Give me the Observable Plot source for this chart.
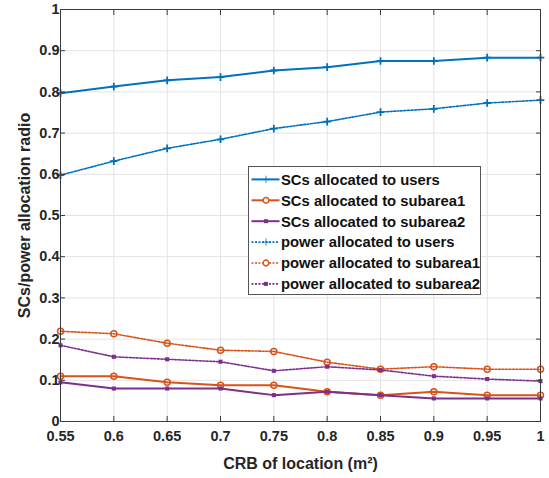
<!DOCTYPE html>
<html>
<head>
<meta charset="utf-8">
<script src="https://cdn.jsdelivr.net/npm/d3@7"></script>
<script src="https://cdn.jsdelivr.net/npm/@observablehq/plot@0.6"></script>
<style>
  html, body { margin: 0; padding: 0; background: #fff; }
  #wrap { position: relative; width: 549px; height: 478px; }
  #legend { position: absolute; left: 248px; top: 166px; }
</style>
</head>
<body>
<div id="wrap"></div>
<script>
// ---- data ----
const crb = [0.55, 0.6, 0.65, 0.7, 0.75, 0.8, 0.85, 0.9, 0.95, 1];
const scUsers     = [0.797, 0.813, 0.828, 0.836, 0.852, 0.860, 0.875, 0.875, 0.883, 0.883];
const scSub1      = [0.110, 0.110, 0.095, 0.088, 0.088, 0.072, 0.064, 0.072, 0.064, 0.064];
const scSub2      = [0.095, 0.080, 0.080, 0.080, 0.064, 0.072, 0.064, 0.056, 0.056, 0.056];
const powUsers    = [0.598, 0.632, 0.663, 0.685, 0.711, 0.728, 0.751, 0.759, 0.773, 0.780];
const powSub1     = [0.219, 0.213, 0.190, 0.173, 0.170, 0.144, 0.127, 0.133, 0.127, 0.127];
const powSub2     = [0.185, 0.157, 0.151, 0.145, 0.123, 0.133, 0.125, 0.110, 0.103, 0.098];
const seriesNames = ["SCs allocated to users", "SCs allocated to subarea1", "SCs allocated to subarea2",
                     "power allocated to users", "power allocated to subarea1", "power allocated to subarea2"];
const xTicks = [0.55, 0.6, 0.65, 0.7, 0.75, 0.8, 0.85, 0.9, 0.95, 1];
const xTickLabels = ["0.55", "0.6", "0.65", "0.7", "0.75", "0.8", "0.85", "0.9", "0.95", "1"];
const yTicks = [0, 0.1, 0.2, 0.3, 0.4, 0.5, 0.6, 0.7, 0.8, 0.9, 1];
const yTickLabels = ["0", "0.1", "0.2", "0.3", "0.4", "0.5", "0.6", "0.7", "0.8", "0.9", "1"];
const xLabel = "CRB of location (m²)";
const yLabel = "SCs/power allocation radio";

// ---- styles ----
const BLUE = "#0072BD", ORANGE = "#D95319", PURPLE = "#7E2F8E";
const styles = [
  {color: BLUE, dash: null, width: 2, symbol: "plus"},
  {color: ORANGE, dash: null, width: 2, symbol: "circle"},
  {color: PURPLE, dash: null, width: 2, symbol: "square"},
  {color: BLUE, dash: "2,1.5", width: 1.6, symbol: "plus"},
  {color: ORANGE, dash: "2,1.5", width: 1.6, symbol: "circle"},
  {color: PURPLE, dash: "2,1.5", width: 1.6, symbol: "square"}
];
const values = [scUsers, scSub1, scSub2, powUsers, powSub1, powSub2];
const series = values.map((v, k) => ({
  name: seriesNames[k], ...styles[k],
  data: crb.map((x, i) => ({x, y: v[i]}))
}));

function dotMark(s, data, opts = {}) {
  if (s.symbol === "plus") return Plot.dot(data, {...opts, symbol: "plus", r: 2.6, stroke: s.color, strokeWidth: 1.8});
  if (s.symbol === "circle") return Plot.dot(data, {...opts, symbol: "circle", r: 3, stroke: s.color, fill: "none", strokeWidth: 1.5});
  return Plot.dot(data, {...opts, symbol: "square", r: 2.3, fill: s.color, stroke: "none"});
}

const FS = 14.5;
const marks = [
  Plot.gridX(xTicks, {stroke: "#e3e3e3", strokeOpacity: 1}),
  Plot.gridY(yTicks, {stroke: "#e3e3e3", strokeOpacity: 1})
];
for (const s of series) {
  marks.push(Plot.line(s.data, {x: "x", y: "y", stroke: s.color, strokeWidth: s.width, strokeDasharray: s.dash}));
  marks.push(dotMark(s, s.data, {x: "x", y: "y"}));
}
marks.push(
  Plot.frame({stroke: "#3a3a3a", strokeWidth: 1}),
  Plot.axisX(xTicks, {anchor: "bottom", tickSize: -5, tickPadding: 14, fontSize: FS, tickFormat: (d, i) => xTickLabels[i], label: null, stroke: "#3a3a3a", fill: "#262626"}),
  Plot.axisX(xTicks, {anchor: "top", tickSize: -5, tickFormat: () => "", label: null, stroke: "#3a3a3a"}),
  Plot.axisY(yTicks, {anchor: "left", tickSize: -5, tickPadding: 6, fontSize: FS, tickFormat: (d, i) => yTickLabels[i], label: null, stroke: "#3a3a3a", fill: "#262626"}),
  Plot.axisY(yTicks, {anchor: "right", tickSize: -5, tickFormat: () => "", label: null, stroke: "#3a3a3a"}),
  Plot.text([xLabel], {frameAnchor: "bottom", textAnchor: "middle", dy: 42, lineAnchor: "middle", fontSize: 16, fill: "#262626"}),
  Plot.text([yLabel], {frameAnchor: "left", textAnchor: "middle", dx: -36, rotate: -90, lineAnchor: "middle", fontSize: 16, fill: "#262626"})
);

const chart = Plot.plot({
  width: 549, height: 478,
  marginLeft: 60, marginRight: 9, marginTop: 9, marginBottom: 57,
  x: {domain: [0.55, 1]},
  y: {domain: [0, 1]},
  style: {fontFamily: "'Liberation Sans', Arial, sans-serif", fontWeight: "bold", fontSize: "14.5px", color: "#262626", background: "#fff"},
  marks
});
document.getElementById("wrap").appendChild(chart);

// ---- legend ----
const LW = 233, LH = 129;
const leg = d3.select("#wrap").append("svg").attr("id", "legend")
  .attr("width", LW).attr("height", LH)
  .style("font-family", "'Liberation Sans', Arial, sans-serif").style("font-weight", "bold").style("font-size", "14.8px");
leg.append("rect").attr("x", 0.5).attr("y", 0.5).attr("width", LW - 1).attr("height", LH - 1)
  .attr("fill", "#fff").attr("stroke", "#555").attr("stroke-width", 1);
series.forEach((s, k) => {
  const cy = 13.4 + k * 20.9;
  const g = leg.append("g");
  g.append("line").attr("x1", 3.5).attr("x2", 31.5).attr("y1", cy).attr("y2", cy)
    .attr("stroke", s.color).attr("stroke-width", s.width).attr("stroke-dasharray", s.dash);
  const sym = s.symbol === "plus" ? d3.symbolPlus : s.symbol === "circle" ? d3.symbolCircle : d3.symbolSquare;
  const size = s.symbol === "plus" ? 20 : s.symbol === "circle" ? 26 : 16;
  g.append("path").attr("d", d3.symbol(sym, size)()).attr("transform", `translate(18,${cy})`)
    .attr("fill", s.symbol === "circle" ? "#fff" : s.color)
    .attr("stroke", s.symbol === "square" ? "none" : s.color).attr("stroke-width", s.symbol === "plus" ? 0.8 : 1.5);
  g.append("text").attr("x", 33).attr("y", cy).attr("dy", "0.36em").attr("fill", "#111").text(s.name);
});
</script>
</body>
</html>
